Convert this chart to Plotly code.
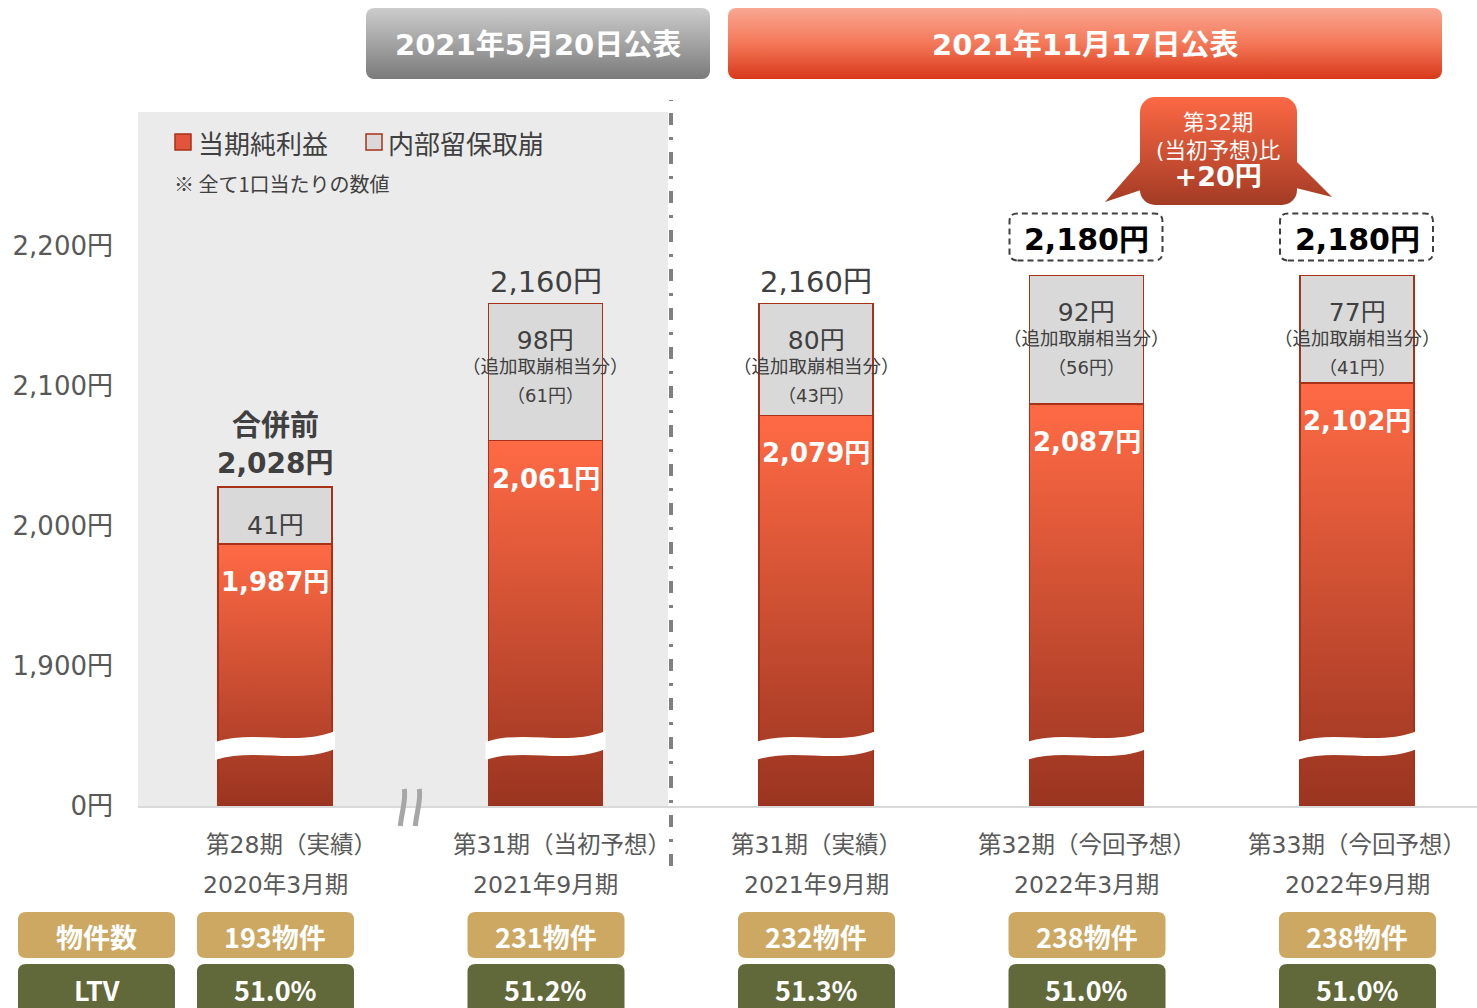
import base64
import plotly.graph_objects as go

# ---------------- data ----------------
periods = ["第28期（実績）", "第31期（当初予想）", "第31期（実績）", "第32期（今回予想）", "第33期（今回予想）"]
fiscal = ["2020年3月期", "2021年9月期", "2021年9月期", "2022年3月期", "2022年9月期"]
net_income = [1987, 2061, 2079, 2087, 2102]
retained = [41, 98, 80, 92, 77]
additional = [None, 61, 43, 56, 41]
total_labels = ["2,028円", "2,160円", "2,160円", "2,180円", "2,180円"]
properties = [193, 231, 232, 238, 238]
ltv = [51.0, 51.2, 51.3, 51.0, 51.0]
y_ticks = [1800, 1900, 2000, 2100, 2200]
y_tick_text = ["0円", "1,900円", "2,000円", "2,100円", "2,200円"]
headers = ["2021年5月20日公表", "2021年11月17日公表"]
legend_names = ["当期純利益", "内部留保取崩"]
note = "※ 全て1口当たりの数値"
callout_lines = ["第32期", "(当初予想)比", "+20円"]

# ---------------- geometry ----------------
W, H = 1477, 1008
L, R, T, B = 138, 1477, 112, 806
PW, PH = R - L, B - T
X0PX, XSTEP = 275, 270.5          # pixel of category 0, pixels per category
YPX = 1.4                         # pixels per yen
xr = [(L - X0PX) / XSTEP, (R - X0PX) / XSTEP]
yr = [1800, 1800 + PH / YPX]
BW = 114 / XSTEP
xs = list(range(len(net_income)))
tops = [n + r for n, r in zip(net_income, retained)]


def px(x):
    return (x - L) / PW


def py(y):
    return (B - y) / PH


NUMF = "DejaVu Sans, Noto Sans CJK JP"
JPF = "Noto Sans CJK JP"
EDGE = "#A83218"
TXT = "#404040"


def uri(svg):
    return "data:image/svg+xml;base64," + base64.b64encode(svg.encode()).decode()


def grad_rect(w, h, stops, r=0):
    st = "".join(f'<stop offset="{o}" stop-color="{c}"/>' for o, c in stops)
    return uri(
        f'<svg xmlns="http://www.w3.org/2000/svg" width="{w}" height="{h}" viewBox="0 0 {w} {h}" preserveAspectRatio="none">'
        f'<defs><linearGradient id="g" x1="0" y1="0" x2="0" y2="1">{st}</linearGradient></defs>'
        f'<rect x="0" y="0" width="{w}" height="{h}" rx="{r}" ry="{r}" fill="url(#g)"/></svg>'
    )


def rrect(x0, y0, x1, y1, r):
    return (f"M {x0+r} {y0} L {x1-r} {y0} Q {x1} {y0} {x1} {y0+r} L {x1} {y1-r} Q {x1} {y1} {x1-r} {y1} "
            f"L {x0+r} {y1} Q {x0} {y1} {x0} {y1-r} L {x0} {y0+r} Q {x0} {y0} {x0+r} {y0} Z")


def A(**kw):
    d = dict(showarrow=False, xanchor="center", yanchor="middle")
    d.update(kw)
    return d


fig = go.Figure()
fig.add_trace(go.Bar(x=xs, y=net_income, width=BW, name=legend_names[0],
                     marker=dict(color="rgba(0,0,0,0)", line=dict(color=EDGE, width=1.5)),
                     hoverinfo="skip", showlegend=False))
fig.add_trace(go.Bar(x=xs, y=retained, width=BW, name=legend_names[1],
                     marker=dict(color="#D9D9D9", line=dict(color=EDGE, width=1.5)),
                     hoverinfo="skip", showlegend=False))

shapes, images, ann = [], [], []

# shaded "before" region and divider
shapes.append(dict(type="rect", xref="paper", yref="paper", x0=0, x1=px(668), y0=0, y1=1,
                   fillcolor="#EBEBEB", line=dict(width=0), layer="below"))
shapes.append(dict(type="line", xref="x", yref="paper", x0=(671 - X0PX) / XSTEP, x1=(671 - X0PX) / XSTEP,
                   y0=py(866), y1=py(100), line=dict(color="#808080", width=4, dash="12px,12px,3px,12px"),
                   layer="above"))

# bar gradients
bar_grad = grad_rect(100, 100, [(0, "#FF6A45"), (1, "#9A3420")])
for i, v in enumerate(net_income):
    images.append(dict(source=bar_grad, xref="x", yref="y", x=i - BW / 2, y=v, sizex=BW, sizey=v - yr[0],
                       xanchor="left", yanchor="top", sizing="stretch", layer="below"))
    # axis-break wave
    shapes.append(dict(type="path", xref="x", yref="y", xsizemode="pixel", ysizemode="pixel",
                       xanchor=i, yanchor=1800 + (B - 745) / YPX,
                       path="M -60 3 C -20 16 20 -2 60 14 L 60 -4 C 20 -20 -20 -2 -60 -15 Z",
                       fillcolor="white", line=dict(width=0), layer="above"))
    # net income label
    ann.append(A(x=i, y=v, xref="x", yref="y", yshift=-38,
                 text=f"<b>{v:,}円</b>", font=dict(family=NUMF, size=26, color="white")))

# axis break mark on x axis
for dx in (0, 15):
    shapes.append(dict(type="path", xref="x", yref="paper", xsizemode="pixel", ysizemode="pixel",
                       xanchor=0.5, yanchor=0,
                       path=f"M {-6+dx} 17 C {-4+dx} 8 {-8+dx} -4 {-10+dx} -20",
                       line=dict(color="#A6A6A6", width=5), layer="above"))

# retained labels
for i in xs:
    if additional[i] is None:
        ann.append(A(x=i, y=net_income[i], xref="x", yref="y", yshift=19,
                     text=f"{retained[i]}円", font=dict(family=NUMF, size=25, color=TXT)))
    else:
        ann.append(A(x=i, y=tops[i], xref="x", yref="y", yshift=-48,
                     text=f"<span style='font-size:25px'>{retained[i]}円</span><br>（追加取崩相当分）",
                     font=dict(family=NUMF, size=18.5, color=TXT)))
        ann.append(A(x=i, y=tops[i], xref="x", yref="y", yshift=-92,
                     text=f"（{additional[i]}円）", font=dict(family=NUMF, size=18, color=TXT)))

# totals
ann.append(A(x=0, y=tops[0], xref="x", yref="y", yshift=23,
             text=f"<b>{total_labels[0]}</b>", font=dict(family=NUMF, size=28, color=TXT)))
ann.append(A(x=0, y=tops[0], xref="x", yref="y", yshift=64,
             text="<b>合併前</b>", font=dict(family=JPF, size=29, color=TXT)))
for i in (1, 2):
    ann.append(A(x=i, y=tops[i], xref="x", yref="y", yshift=21,
                 text=total_labels[i], font=dict(family=NUMF, size=29, color=TXT)))
for i in (3, 4):
    ann.append(A(x=i, y=tops[i], xref="x", yref="y", yshift=36,
                 text=f"<b>{total_labels[i]}</b>", font=dict(family=NUMF, size=30, color="black")))
    shapes.append(dict(type="path", xref="x", yref="y", xsizemode="pixel", ysizemode="pixel",
                       xanchor=i, yanchor=tops[i], path=rrect(-77, 15, 76, 62, 8),
                       line=dict(color="#404040", width=2, dash="6px,4px"), layer="above"))

# header boxes
images.append(dict(source=grad_rect(344, 71, [(0, "#CCCCCC"), (1, "#7A7A7A")], 8), xref="paper", yref="paper",
                   x=px(366), y=py(8), sizex=344 / PW, sizey=71 / PH, xanchor="left", yanchor="top",
                   sizing="stretch", layer="above"))
images.append(dict(source=grad_rect(714, 71, [(0, "#F9A793"), (0.5, "#F47858"), (1, "#D8381A")], 8),
                   xref="paper", yref="paper", x=px(728), y=py(8), sizex=714 / PW, sizey=71 / PH,
                   xanchor="left", yanchor="top", sizing="stretch", layer="above"))
ann.append(A(x=px(538), y=py(45), xref="paper", yref="paper",
             text=f"<b>{headers[0]}</b>", font=dict(family=NUMF, size=29, color="white")))
ann.append(A(x=px(1085), y=py(45), xref="paper", yref="paper",
             text=f"<b>{headers[1]}</b>", font=dict(family=NUMF, size=29, color="white")))

# callout
cw, ch = 240, 116
callout_svg = (
    f'<svg xmlns="http://www.w3.org/2000/svg" width="{cw}" height="{ch}" viewBox="0 0 {cw} {ch}">'
    '<defs><linearGradient id="g" gradientUnits="userSpaceOnUse" x1="0" y1="3" x2="0" y2="111">'
    '<stop offset="0" stop-color="#FC6844"/><stop offset="1" stop-color="#A33B24"/></linearGradient></defs>'
    '<rect x="40" y="3" width="157" height="108" rx="15" ry="15" fill="url(#g)"/>'
    '<path d="M 41 67 L 5 108 L 41 96 Z" fill="url(#g)"/>'
    '<path d="M 196 67 L 232 103 L 196 94 Z" fill="url(#g)"/></svg>'
)
images.append(dict(source=uri(callout_svg), xref="paper", yref="paper", x=px(1100), y=py(94),
                   sizex=cw / PW, sizey=ch / PH, xanchor="left", yanchor="top", sizing="stretch", layer="above"))
ann.append(A(x=px(1218), y=py(150.5), xref="paper", yref="paper",
             text=(f"{callout_lines[0]}<br>{callout_lines[1]}<br>"
                   f"<span style='font-size:27px'><b>{callout_lines[2]}</b></span>"),
             font=dict(family=NUMF, size=21.5, color="white")))

# legend
shapes.append(dict(type="rect", xref="paper", yref="paper", x0=px(175), x1=px(191), y0=py(150), y1=py(134),
                   fillcolor="#E2553A", line=dict(color=EDGE, width=1.5), layer="above"))
shapes.append(dict(type="rect", xref="paper", yref="paper", x0=px(366), x1=px(382), y0=py(150), y1=py(134),
                   fillcolor="#D9D9D9", line=dict(color=EDGE, width=1.5), layer="above"))
ann.append(A(x=px(196), y=py(142), xref="paper", yref="paper", xanchor="left",
             text=legend_names[0], font=dict(family=JPF, size=26, color=TXT)))
ann.append(A(x=px(386), y=py(142), xref="paper", yref="paper", xanchor="left",
             text=legend_names[1], font=dict(family=JPF, size=26, color=TXT)))
ann.append(A(x=px(172), y=py(183), xref="paper", yref="paper", xanchor="left",
             text=note, font=dict(family=JPF, size=20, color=TXT)))

# x category labels (labels inside the shaded region sit slightly right)
for i in xs:
    ann.append(A(x=i, y=py(845), xref="x", yref="paper", xshift=16 if i < 2 else 0,
                 text=periods[i], font=dict(family=NUMF, size=23.5, color="#595959")))
    ann.append(A(x=i, y=py(885), xref="x", yref="paper",
                 text=fiscal[i], font=dict(family=NUMF, size=23.5, color="#595959")))

# bottom table
TAN, OLIVE = "#CDA862", "#61693A"
shapes.append(dict(type="path", xref="paper", yref="paper", xsizemode="pixel", ysizemode="pixel",
                   xanchor=0, yanchor=0, path=rrect(-120, -152, 37, -106, 8),
                   fillcolor=TAN, line=dict(width=0), layer="above"))
shapes.append(dict(type="path", xref="paper", yref="paper", xsizemode="pixel", ysizemode="pixel",
                   xanchor=0, yanchor=0, path=rrect(-120, -215, 37, -158, 8),
                   fillcolor=OLIVE, line=dict(width=0), layer="above"))
ann.append(A(x=px(96.5), y=py(936), xref="paper", yref="paper",
             text="<b>物件数</b>", font=dict(family=JPF, size=27, color="white")))
ann.append(A(x=px(96.5), y=py(989), xref="paper", yref="paper",
             text="<b>LTV</b>", font=dict(family=JPF, size=27, color="white")))
for i in xs:
    shapes.append(dict(type="path", xref="x", yref="paper", xsizemode="pixel", ysizemode="pixel",
                       xanchor=i, yanchor=0, path=rrect(-78, -152, 79, -106, 8),
                       fillcolor=TAN, line=dict(width=0), layer="above"))
    shapes.append(dict(type="path", xref="x", yref="paper", xsizemode="pixel", ysizemode="pixel",
                       xanchor=i, yanchor=0, path=rrect(-78, -215, 79, -158, 8),
                       fillcolor=OLIVE, line=dict(width=0), layer="above"))
    ann.append(A(x=i, y=py(936), xref="x", yref="paper",
                 text=f"<b>{properties[i]}物件</b>", font=dict(family=JPF, size=27, color="white")))
    ann.append(A(x=i, y=py(989), xref="x", yref="paper",
                 text=f"<b>{ltv[i]:.1f}%</b>", font=dict(family=JPF, size=27, color="white")))

fig.update_layout(
    width=W, height=H, barmode="stack",
    margin=dict(l=L, r=W - R, t=T, b=H - B, pad=0),
    paper_bgcolor="white", plot_bgcolor="rgba(0,0,0,0)",
    showlegend=False, hovermode=False,
    xaxis=dict(range=xr, showticklabels=False, showgrid=False, zeroline=False, ticks="",
               showline=True, linecolor="#D9D9D9", linewidth=2, fixedrange=True),
    yaxis=dict(range=yr, tickvals=y_ticks, ticktext=y_tick_text, showgrid=False, zeroline=False,
               ticks="", ticklabelstandoff=24, showline=False,
               tickfont=dict(family=NUMF, size=26, color="#595959"), fixedrange=True),
    shapes=shapes, images=images, annotations=ann,
)

fig.write_html("out.html", config={"displayModeBar": False},
               post_script="document.body.style.margin='0';document.body.style.overflow='hidden';")
